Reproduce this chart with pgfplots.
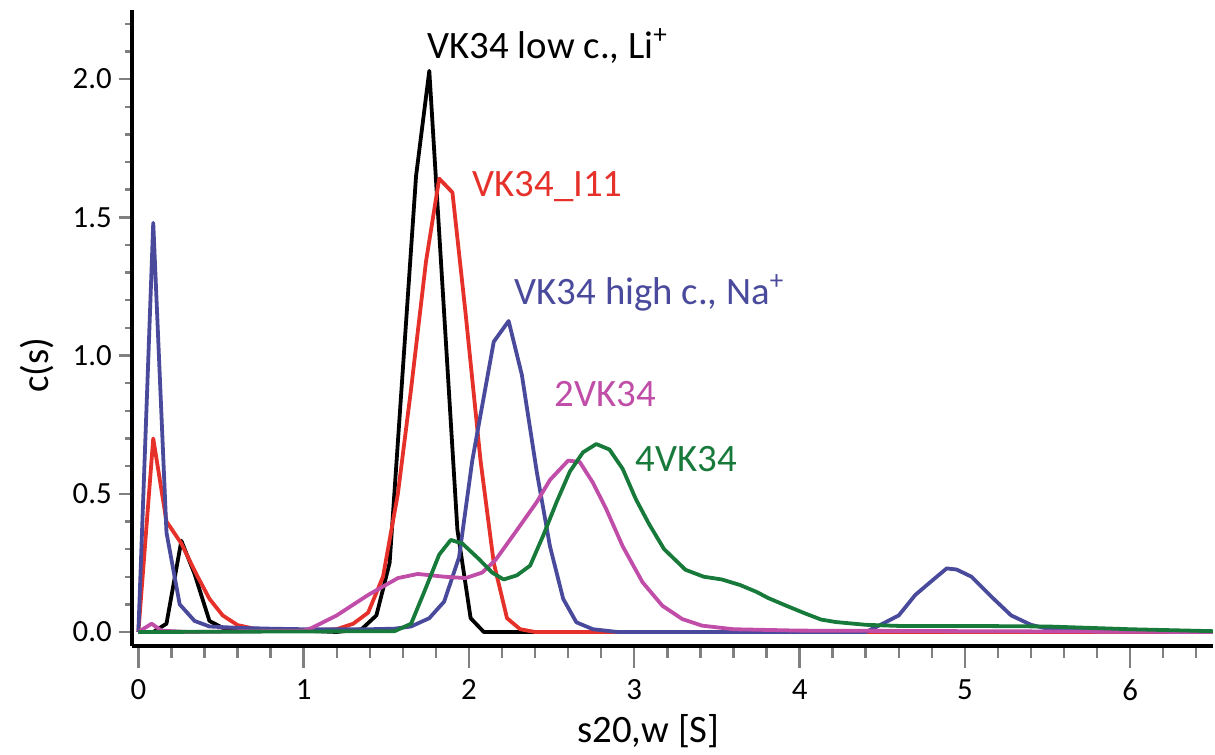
\documentclass[border=0pt]{standalone}
\usepackage{fontspec}
\setmainfont{Carlito}
\usepackage{pgfplots}
\pgfplotsset{compat=1.18}
\definecolor{cred}{HTML}{E5312A}
\definecolor{cblue}{HTML}{4A4A9C}
\definecolor{cmag}{HTML}{C04DA8}
\definecolor{cgreen}{HTML}{17793A}
\pgfplotsset{
  base/.style={
    scale only axis, width=541.5bp, height=318.5bp,
    xmin=-0.04, xmax=6.5, ymin=-0.05, ymax=2.25,
    axis line style={line width=2.2bp},
    tick align=outside,
    tick style={line width=1.2bp},
    /pgf/number format/assume math mode=true,
    ticklabel style={font=\fontsize{15.5}{18}\selectfont},
    label style={font=\fontsize{19.5}{23}\selectfont},
  }
}
\begin{document}
\begin{tikzpicture}
% x axis only (longer ticks)
\begin{axis}[base,
  axis x line*=bottom, axis y line=none,
  xtick={0,1,2,3,4,5,6},
  minor xtick={0.2,0.4,0.6,0.8,1.2,1.4,1.6,1.8,2.2,2.4,2.6,2.8,3.2,3.4,3.6,3.8,4.2,4.4,4.6,4.8,5.2,5.4,5.6,5.8,6.2,6.4},
  major tick length=11bp, minor tick length=6bp,
  xticklabel style={yshift=-2.5bp},
  xlabel={s20,w [S]},
  xlabel style={at={(axis description cs:0.478,-0.134)},anchor=center},
]
\end{axis}
% y axis and data
\begin{axis}[base,
  axis x line=none, axis y line*=left,
  ytick={0,0.5,1,1.5,2},
  minor ytick={0.1,0.2,0.3,0.4,0.6,0.7,0.8,0.9,1.1,1.2,1.3,1.4,1.6,1.7,1.8,1.9,2.1,2.2},
  major tick length=6.5bp, minor tick length=3.3bp,
  yticklabel style={/pgf/number format/fixed,/pgf/number format/fixed zerofill,/pgf/number format/precision=1},
  ylabel={c(s)},
  ylabel style={at={(axis description cs:-0.0877,0.441)},anchor=center},
  every axis plot/.append style={line width=1.9bp, line join=round, mark=none},
]
\addplot[black] coordinates {
(0,0) (0.09,0.0) (0.17,0.03) (0.26,0.33) (0.34,0.21) (0.43,0.04) (0.51,0.015) (0.6,0.01) (0.8,0.01) (1.0,0.005) (1.2,0.0) (1.35,0.01) (1.44,0.06) (1.52,0.25) (1.60,0.95) (1.68,1.65) (1.76,2.03) (1.93,0.37) (2.01,0.05) (2.09,0.0) (6.5,0)
};
\addplot[cred] coordinates {
(0,0) (0.09,0.70) (0.17,0.40) (0.26,0.32) (0.35,0.21) (0.43,0.12) (0.51,0.06) (0.60,0.025) (0.70,0.012) (0.9,0.008) (1.05,0.005) (1.2,0.01) (1.3,0.03) (1.39,0.07) (1.48,0.2) (1.57,0.5) (1.65,0.88) (1.74,1.34) (1.82,1.64) (1.90,1.59) (1.98,1.15) (2.07,0.62) (2.15,0.25) (2.23,0.05) (2.31,0.01) (2.4,0.0) (6.5,0.0)
};
\addplot[cblue] coordinates {
(0,0) (0.09,1.48) (0.17,0.36) (0.25,0.10) (0.34,0.04) (0.43,0.02) (0.6,0.015) (0.8,0.012) (1.0,0.01) (1.2,0.01) (1.4,0.01) (1.55,0.012) (1.65,0.02) (1.76,0.05) (1.85,0.11) (1.94,0.27) (2.02,0.62) (2.15,1.05) (2.24,1.125) (2.32,0.93) (2.41,0.58) (2.49,0.31) (2.57,0.12) (2.65,0.035) (2.75,0.01) (2.9,0.0) (4.4,0.0) (4.49,0.026) (4.6,0.06) (4.70,0.134) (4.81,0.19) (4.89,0.23) (4.95,0.226) (5.04,0.20) (5.16,0.128) (5.28,0.06) (5.40,0.026) (5.5,0.012) (5.7,0.005) (6.5,0.0)
};
\addplot[cmag] coordinates {
(0,0) (0.08,0.03) (0.14,0.005) (0.3,0.0) (1.0,0.005) (1.05,0.015) (1.2,0.06) (1.39,0.134) (1.57,0.195) (1.69,0.21) (1.85,0.20) (1.98,0.195) (2.08,0.215) (2.16,0.26) (2.28,0.36) (2.41,0.47) (2.49,0.55) (2.60,0.62) (2.67,0.615) (2.75,0.54) (2.83,0.445) (2.93,0.31) (3.05,0.18) (3.17,0.095) (3.29,0.047) (3.41,0.023) (3.6,0.01) (4.0,0.005) (6.5,0.0)
};
\addplot[cgreen] coordinates {
(0,0) (1.55,0.003) (1.65,0.03) (1.73,0.146) (1.82,0.28) (1.89,0.333) (1.96,0.32) (2.06,0.264) (2.14,0.215) (2.21,0.19) (2.29,0.205) (2.37,0.24) (2.45,0.35) (2.53,0.47) (2.61,0.58) (2.69,0.65) (2.77,0.68) (2.85,0.66) (2.93,0.59) (3.01,0.48) (3.09,0.39) (3.18,0.30) (3.31,0.225) (3.42,0.20) (3.53,0.19) (3.64,0.17) (3.74,0.145) (3.81,0.123) (3.92,0.095) (4.03,0.068) (4.13,0.045) (4.22,0.036) (4.4,0.026) (4.6,0.022) (5.0,0.022) (5.5,0.02) (6.0,0.01) (6.5,0.003)
};
\begin{scope}[every node/.style={inner sep=0pt, anchor=base west, font=\fontsize{19.5}{23}\selectfont}]
\node[black] at (axis cs:1.748,2.076) {VK34 low c., Li\textsuperscript{+}};
\node[cred] at (axis cs:2.02,1.577) {VK34\_I11};
\node[cblue] at (axis cs:2.275,1.186) {VK34 high c., Na\textsuperscript{+}};
\node[cmag] at (axis cs:2.517,0.814) {2VK34};
\node[cgreen] at (axis cs:3.007,0.582) {4VK34};
\end{scope}
\end{axis}
\path ([shift={(-66bp,-53.5bp)}]current axis.south west) rectangle ([shift={(0bp,5bp)}]current axis.north east);
\end{tikzpicture}
\end{document}
